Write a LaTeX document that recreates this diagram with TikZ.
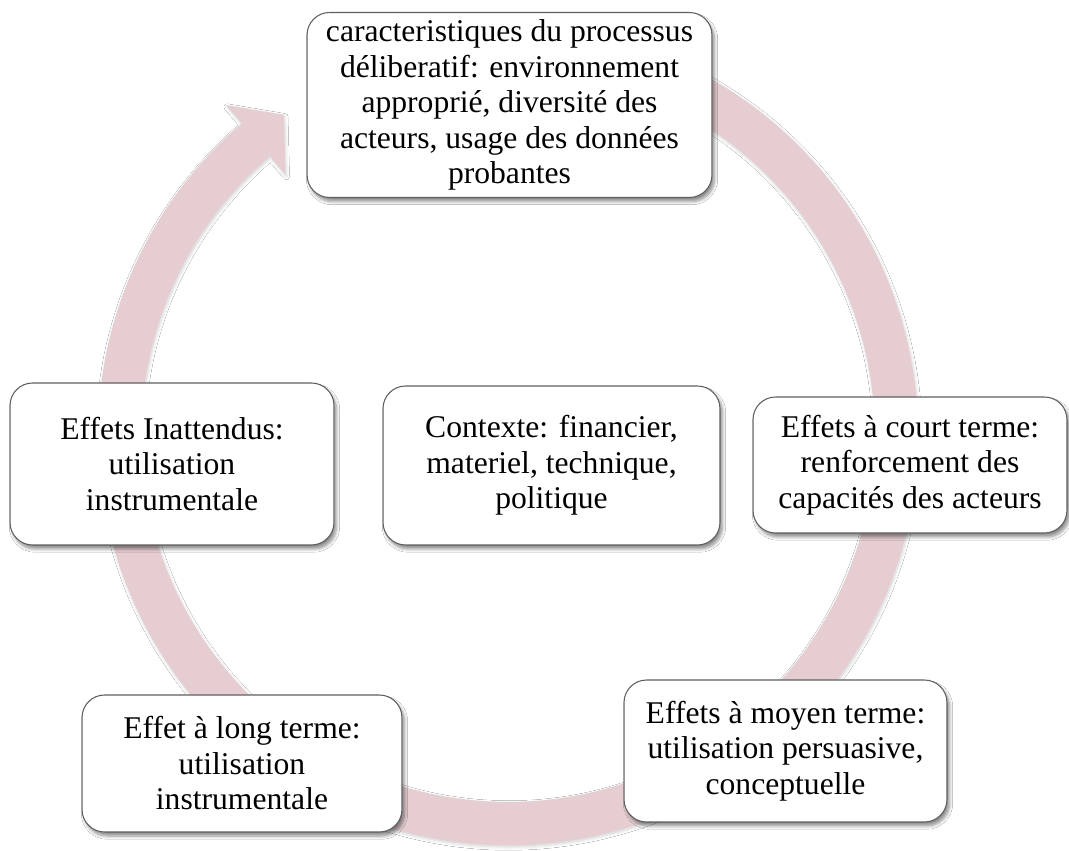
\documentclass[tikz,border=0pt]{standalone}
\usepackage{fontspec}
\setmainfont{Liberation Serif}
\usetikzlibrary{shadows.blur}
\definecolor{ringpink}{RGB}{229,205,209}
\definecolor{boxborder}{RGB}{95,95,95}
\begin{document}
\begin{tikzpicture}[x=0.02cm,y=-0.02cm,
  stage/.style={draw=boxborder, line width=0.6pt, fill=white,
    rounded corners=0.45cm, align=center, inner sep=0pt,
    font=\fontsize{18}{20.2}\selectfont,
    blur shadow={shadow xshift=0.5mm, shadow yshift=-0.8mm,
      shadow blur steps=6, shadow opacity=45}},
  ringshape/.style={fill=ringpink,
    blur shadow={shadow xshift=0.2mm, shadow yshift=-0.4mm,
      shadow blur steps=5, shadow opacity=18}}
  ]
\useasboundingbox (0,0) rectangle (1069,851);
\fill[white] (0,0) rectangle (1069,851);
% circular arrow
\begin{scope}[shift={(508,435)}]
\path[ringshape] (61:8.2cm) arc[start angle=61, end angle=-229.5, radius=8.2cm]
  -- (-229.5:8.68cm) -- (-235:7.82cm) -- (-229.5:6.86cm)
  -- (-229.5:7.34cm) arc[start angle=-229.5, end angle=61, radius=7.34cm]
  -- cycle;
\end{scope}
% boxes
\node[stage, minimum width=8.1cm, minimum height=3.7cm] (top) at (509.5,105)
  {caracteristiques du processus\\ déliberatif: environnement\\ approprié, diversité des\\ acteurs, usage des données\\ probantes};
\node[stage, minimum width=6.48cm, minimum height=3.24cm] (left) at (172,464)
  {Effets Inattendus:\\ utilisation\\ instrumentale};
\node[stage, minimum width=6.74cm, minimum height=3.18cm] (center) at (551.5,465.5)
  {Contexte: financier,\\ materiel, technique,\\ politique};
\node[stage, minimum width=6.28cm, minimum height=2.72cm] (right) at (910,465)
  {Effets à court terme:\\ renforcement des\\ capacités des acteurs};
\node[stage, minimum width=6.46cm, minimum height=2.84cm] (bright) at (785.5,751)
  {Effets à moyen terme:\\ utilisation persuasive,\\ conceptuelle};
\node[stage, minimum width=6.4cm, minimum height=2.74cm] (bleft) at (242,763.5)
  {Effet à long terme:\\ utilisation\\ instrumentale};
\end{tikzpicture}
\end{document}
